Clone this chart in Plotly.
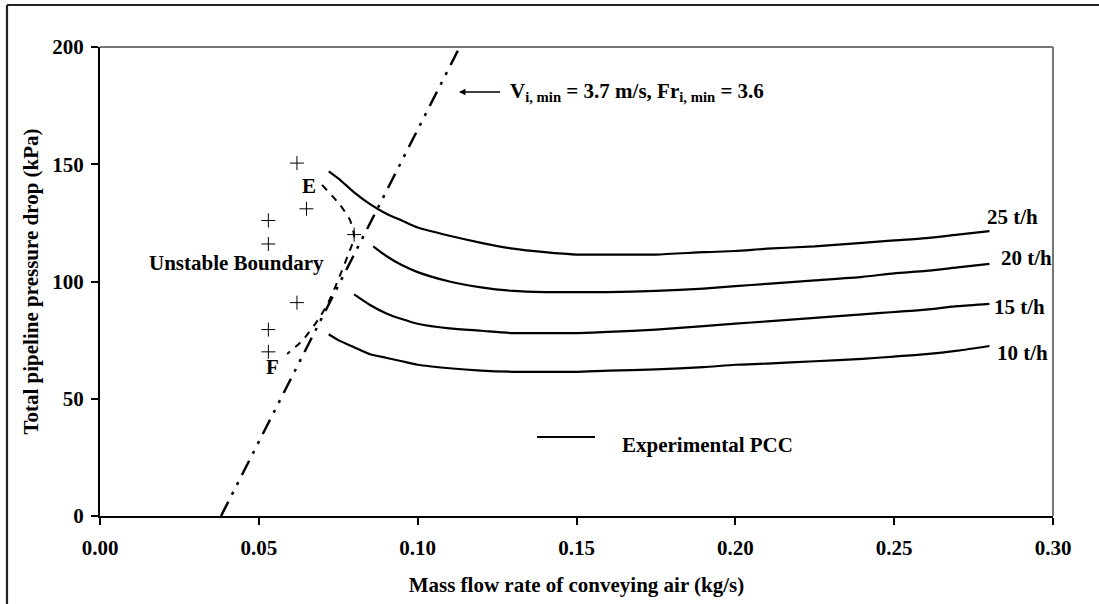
import plotly.graph_objects as go

# ---- data ----
x25 = [0.072, 0.075, 0.08, 0.085, 0.09, 0.095, 0.10, 0.11, 0.12, 0.13, 0.14, 0.15, 0.16, 0.175, 0.19, 0.20, 0.21, 0.225, 0.24, 0.25, 0.26, 0.27, 0.28]
y25 = [147, 144, 138, 133, 129, 126, 123, 119.5, 116.5, 114, 112.5, 111.5, 111.5, 111.5, 112.5, 113, 114, 115, 116.5, 117.5, 118.5, 120, 121.5]

x20 = [0.086, 0.09, 0.095, 0.10, 0.11, 0.12, 0.13, 0.14, 0.15, 0.16, 0.175, 0.19, 0.20, 0.21, 0.225, 0.24, 0.25, 0.26, 0.27, 0.28]
y20 = [115, 111, 107, 104, 100, 97.5, 96, 95.5, 95.5, 95.5, 96, 97, 98, 99, 100.5, 102, 103.5, 104.5, 106, 107.5]

x15 = [0.080, 0.085, 0.09, 0.095, 0.10, 0.11, 0.12, 0.13, 0.14, 0.15, 0.16, 0.175, 0.19, 0.20, 0.21, 0.225, 0.24, 0.25, 0.26, 0.27, 0.28]
y15 = [94.5, 90, 86.5, 84, 82, 80, 79, 78, 78, 78, 78.5, 79.5, 81, 82, 83, 84.5, 86, 87, 88, 89.5, 90.5]

x10 = [0.072, 0.075, 0.08, 0.085, 0.09, 0.095, 0.10, 0.11, 0.12, 0.13, 0.14, 0.15, 0.16, 0.175, 0.19, 0.20, 0.21, 0.225, 0.24, 0.25, 0.26, 0.27, 0.28]
y10 = [77.5, 75, 72, 69, 67.5, 66, 64.5, 63, 62, 61.5, 61.5, 61.5, 62, 62.5, 63.5, 64.5, 65, 66, 67, 68, 69, 70.5, 72.5]

series_labels = ["25 t/h", "20 t/h", "15 t/h", "10 t/h"]
label_x = [0.2874, 0.2918, 0.2893, 0.2903]
label_y = [127.5, 110.2, 89.3, 69.3]

# unstable points (+)
plus_x = [0.062, 0.065, 0.053, 0.053, 0.080, 0.062, 0.053, 0.053]
plus_y = [150.5, 131, 126, 116, 120, 91, 79.5, 70]

# unstable boundary E-F (dashed)
bnd_x = [0.0699, 0.0756, 0.0787, 0.0800, 0.0781, 0.0756, 0.0718, 0.0686, 0.0639, 0.0589]
bnd_y = [141.2, 132.6, 126.2, 119.0, 111.3, 102.8, 90.8, 83.6, 75.1, 69.1]

# minimum velocity line
vmin_x = [0.0381, 0.1140]
vmin_y = [0, 202]

FONT = "Liberation Serif"
FS = 21

fig = go.Figure()

for xs, ys in [(x25, y25), (x20, y20), (x15, y15), (x10, y10)]:
    fig.add_trace(go.Scatter(x=xs, y=ys, mode="lines",
                             line=dict(color="black", width=2.2, shape="spline", smoothing=0.6),
                             showlegend=False, hoverinfo="skip"))

fig.add_trace(go.Scatter(x=bnd_x, y=bnd_y, mode="lines",
                         line=dict(color="black", width=2, dash="7px,7px", shape="spline", smoothing=0.6),
                         showlegend=False))

fig.add_trace(go.Scatter(x=vmin_x, y=vmin_y, mode="lines",
                         line=dict(color="black", width=2.5, dash="16px,8px,3px,8px,3px,8px"),
                         showlegend=False))

fig.add_trace(go.Scatter(x=plus_x, y=plus_y, mode="markers",
                         marker=dict(symbol="cross-thin", size=10, line=dict(color="black", width=1)),
                         showlegend=False))

def bold(t):
    return "<b>" + t + "</b>"

tf = dict(family=FONT, size=FS, color="black")
ann = []
for lab, lx, ly in zip(series_labels, label_x, label_y):
    ann.append(dict(x=lx, y=ly, text=bold(lab), showarrow=False, xanchor="center", yanchor="middle", font=tf))
ann.append(dict(x=0.0659, y=140.7, text=bold("E"), showarrow=False, font=tf))
ann.append(dict(x=0.0542, y=63.5, text=bold("F"), showarrow=False, font=tf))
ann.append(dict(x=0.0431, y=107.9, text=bold("Unstable Boundary"), showarrow=False, font=tf))
ann.append(dict(x=0.1284, y=180.8,
                text=bold("V<sub>i, min</sub> = 3.7 m/s, Fr<sub>i, min</sub> = 3.6"),
                showarrow=False, xanchor="left", yanchor="middle", font=tf))
ann.append(dict(x=0.1130, y=180.8, ax=0.1272, ay=180.8, axref="x", ayref="y", text=" ", showarrow=True,
                arrowhead=2, arrowsize=1, arrowwidth=1.3, arrowcolor="black", font=tf))
# legend text
ann.append(dict(x=(620 - 100) / 953, y=(516 - 445) / 469, xref="paper", yref="paper",
                text=bold("Experimental PCC"), showarrow=False, xanchor="left", yanchor="middle", font=tf))

shapes = [
    # legend line
    dict(type="line", xref="paper", yref="paper", x0=(537 - 100) / 953, x1=(595 - 100) / 953,
         y0=(516 - 437) / 469, y1=(516 - 437) / 469, line=dict(color="black", width=2.2)),
    # gray top/right plot borders
    dict(type="line", xref="paper", yref="paper", x0=0, x1=1, y0=1, y1=1, line=dict(color="#777777", width=2)),
    dict(type="line", xref="paper", yref="paper", x0=1, x1=1, y0=0, y1=1, line=dict(color="#777777", width=2)),
    # outer frame (left, top)
    dict(type="line", xref="paper", yref="paper", x0=(7 - 100) / 953, x1=(7 - 100) / 953,
         y0=-0.3, y1=(516 - 5) / 469, line=dict(color="#222222", width=2.2)),
    dict(type="line", xref="paper", yref="paper", x0=(7 - 100) / 953, x1=1.2,
         y0=(516 - 5) / 469, y1=(516 - 5) / 469, line=dict(color="#222222", width=2.2)),
]

fig.update_layout(
    width=1099, height=604,
    margin=dict(l=100, r=46, t=47, b=88),
    paper_bgcolor="white", plot_bgcolor="white",
    font=dict(family=FONT, size=FS, color="black"),
    annotations=ann, shapes=shapes,
    xaxis=dict(range=[0, 0.30], dtick=0.05, tickformat=".2f", showgrid=False, zeroline=False,
               showline=True, linecolor="black", linewidth=2, ticks="outside", ticklen=7, tickwidth=1.5,
               tickcolor="black", tickfont=tf, ticklabelstandoff=5,
               tickprefix="<b>", ticksuffix="</b>",
               title=dict(text=bold("Mass flow rate of conveying air (kg/s)"), font=tf, standoff=18)),
    yaxis=dict(range=[0, 200], dtick=50, showgrid=False, zeroline=False,
               showline=True, linecolor="black", linewidth=2, ticks="outside", ticklen=7, tickwidth=1.5,
               tickcolor="black", tickfont=tf, ticklabelstandoff=3,
               tickprefix="<b>", ticksuffix="</b>",
               title=dict(text=bold("Total pipeline pressure drop (kPa)"), font=tf, standoff=8)),
)

fig.write_html("out.html")
